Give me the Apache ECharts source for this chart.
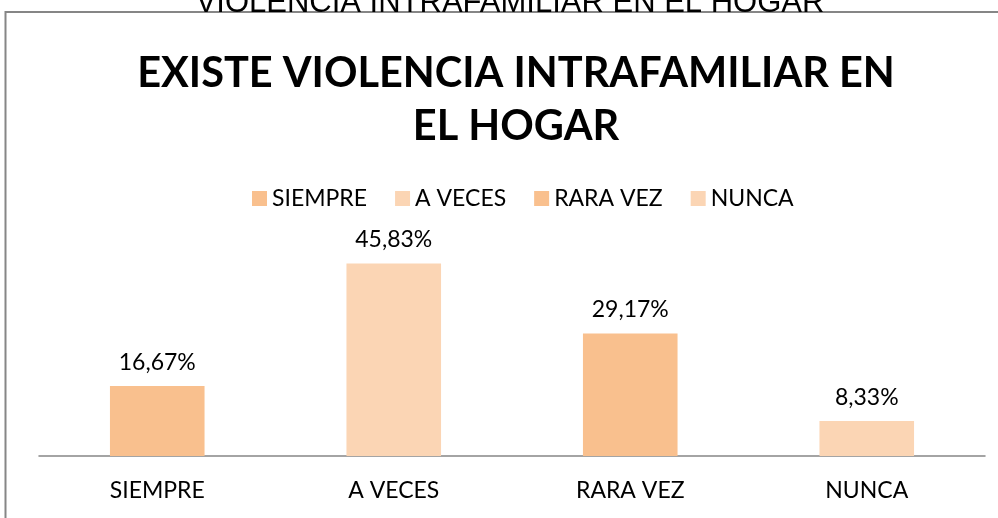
<!DOCTYPE html>
<html>
<head>
<meta charset="utf-8">
<script src="https://cdn.jsdelivr.net/npm/echarts@6/dist/echarts.min.js"></script>
<style>
  html, body {margin: 0; padding: 0; background: #fff;}
  #main {width: 998px; height: 518px;}
</style>
</head>
<body>
<div id="main"></div>
<script>
  // datos del grafico
  const categorias = ['SIEMPRE', 'A VECES', 'RARA VEZ', 'NUNCA'];
  const valores = [16.67, 45.83, 29.17, 8.33];
  const etiquetas = ['16,67%', '45,83%', '29,17%', '8,33%'];
  const colores = ['#F9C08E', '#FBD5B4', '#F9C08E', '#FBD5B4'];

  const chart = echarts.init(document.getElementById('main'));

  // una serie por categoria para que la leyenda tenga 4 entradas
  let series = [];
  categorias.forEach(function (cat, i) {
    let data = categorias.map(function (c, j) {
      return j === i ? valores[j] : null;
    });
    series.push({
      name: cat,
      type: 'bar',
      stack: 'total',
      barWidth: '40%',
      data: data,
      itemStyle: {color: colores[i]},
      label: {
        show: true,
        position: 'top',
        distance: 12,
        color: '#000',
        fontFamily: 'Lato',
        fontSize: 23,
        formatter: function () {
          return etiquetas[i];
        }
      }
    });
  });

  chart.setOption({
    animation: false,
    title: [{
      text: 'VIOLENCIA INTRAFAMILIAR EN EL HOGAR',
      left: 505, top: -17, textAlign: 'center',
      textStyle: {fontFamily: 'Liberation Sans', fontWeight: 'normal', fontSize: 31, color: '#000'}
    }, {
      text: 'EXISTE VIOLENCIA INTRAFAMILIAR EN\nEL HOGAR',
      left: 511, top: 42, textAlign: 'center',
      textStyle: {fontFamily: 'Lato', fontWeight: 'bold', fontSize: 41.5, lineHeight: 53, color: '#000'}
    }],
    graphic: [{
      type: 'rect',
      shape: {x: 5.5, y: 12, width: 1100, height: 600},
      style: {fill: 'none', stroke: '#868686', lineWidth: 2}
    }],
    legend: {
      data: categorias,
      top: 182,
      left: 247,
      itemWidth: 15, itemHeight: 15,
      itemGap: 28,
      icon: 'rect',
      textStyle: {fontFamily: 'Lato', fontSize: 23, color: '#000'}
    },
    grid: {left: 39, right: 13, top: 246, bottom: 62},
    xAxis: {
      type: 'category',
      data: categorias,
      axisLine: {lineStyle: {color: '#868686', width: 1.5}},
      axisTick: {show: false},
      axisLabel: {fontFamily: 'Lato', fontSize: 23, color: '#000', margin: 23}
    },
    yAxis: {
      type: 'value',
      min: 0, max: 50,
      show: false,
      splitLine: {show: false}
    },
    series: series
  });
</script>
</body>
</html>
